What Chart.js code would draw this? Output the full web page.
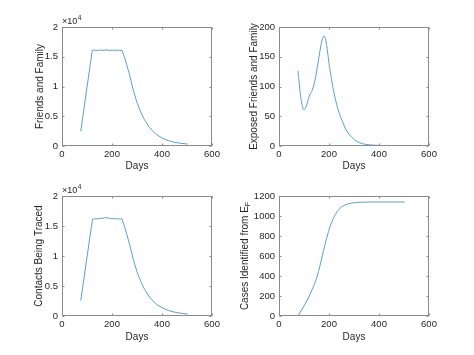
<!DOCTYPE html>
<html>
<head>
<meta charset="utf-8">
<script src="https://cdn.jsdelivr.net/npm/chart.js@4/dist/chart.umd.min.js"></script>
<style>
  html, body { margin: 0; padding: 0; background: #ffffff; }
  #wrap { position: relative; width: 474px; height: 355px; background: #ffffff; overflow: hidden; }
  .cv { position: absolute; }
</style>
</head>
<body>
<div id="wrap">
  <canvas id="c1" class="cv" style="left:0px;top:0px;width:237px;height:177px"></canvas>
  <canvas id="c2" class="cv" style="left:237px;top:0px;width:237px;height:177px"></canvas>
  <canvas id="c3" class="cv" style="left:0px;top:177px;width:237px;height:178px"></canvas>
  <canvas id="c4" class="cv" style="left:237px;top:177px;width:237px;height:178px"></canvas>
</div>
<script>
// ---------------- DATA ----------------
const xTicks = [0, 200, 400, 600];

// Friends and Family (top-left)
const ffDays   = [75, 121, 130, 140, 150, 160, 170, 180, 190, 200, 210, 220, 230, 240, 250, 260, 270, 285, 300, 315, 330, 350, 375, 400, 425, 450, 475, 503];
const ffValues = [2470, 16080, 16100, 16050, 16120, 16080, 16100, 16150, 16050, 16100, 16080, 16120, 16060, 16050, 14900, 13500, 12000, 9400, 7300, 5700, 4400, 3100, 2000, 1350, 900, 620, 450, 330];
const ffTicks  = [0, 5000, 10000, 15000, 20000];

// Exposed Friends and Family (top-right)
const efDays   = [76, 86, 96, 100, 106, 113, 118, 123, 133, 147, 160, 168, 173, 180, 187, 193, 200, 210, 220, 240, 255, 267, 280, 293, 310, 333, 360, 400, 450, 503];
const efValues = [126, 85, 63, 61, 64, 72, 80, 86, 94, 117, 150, 170, 180, 185, 178, 162, 139, 112, 89, 56, 40, 28, 20, 14, 8, 4, 2, 1, 0.3, 0.1];
const efTicks  = [0, 50, 100, 150, 200];

// Contacts Being Traced (bottom-left)
const ctDays   = [75, 122, 130, 140, 150, 160, 170, 180, 190, 200, 210, 220, 230, 240, 250, 260, 270, 285, 300, 315, 330, 350, 375, 400, 425, 450, 475, 503];
const ctValues = [2560, 16150, 16200, 16180, 16250, 16300, 16350, 16400, 16250, 16200, 16230, 16180, 16200, 16150, 14950, 13500, 12000, 9450, 7350, 5750, 4450, 3150, 2050, 1380, 920, 640, 460, 330];
const ctTicks  = [0, 5000, 10000, 15000, 20000];

// Cases Identified from E_F (bottom-right)
const ciDays   = [76, 85, 100, 115, 133, 153, 163, 173, 183, 193, 203, 213, 225, 240, 260, 280, 300, 333, 400, 503];
const ciValues = [0, 40, 100, 170, 267, 400, 495, 600, 705, 800, 885, 950, 1015, 1067, 1105, 1123, 1132, 1138, 1140, 1140];
const ciTicks  = [0, 200, 400, 600, 800, 1000, 1200];

// ---------------- STYLE ----------------
const FONT = "'Liberation Sans', Arial, Helvetica, sans-serif";
const TXT = '#262626';
const LINE = '#5aa0ca';
const TICK_SIZE = 9.5;
const TITLE_SIZE = 10;

const boxPlugin = {
  id: 'mbox',
  afterDraw(chart, args, opts) {
    const {ctx, chartArea: a, scales: {x, y}} = chart;
    ctx.save();
    ctx.strokeStyle = '#8a8a8a';
    ctx.lineWidth = 1;
    const L = Math.round(a.left) + 0.5, R = Math.round(a.right) - 0.5;
    const T = Math.round(a.top) + 0.5, B = Math.round(a.bottom) - 0.5;
    ctx.strokeRect(L, T, R - L, B - T);
    const tl = 2;
    ctx.beginPath();
    x.ticks.forEach(t => {
      const px = Math.round(x.getPixelForValue(t.value)) + 0.5;
      ctx.moveTo(px, B); ctx.lineTo(px, B - tl);
      ctx.moveTo(px, T); ctx.lineTo(px, T + tl);
    });
    y.ticks.forEach(t => {
      const py = Math.round(y.getPixelForValue(t.value)) + 0.5;
      ctx.moveTo(L, py); ctx.lineTo(L + tl, py);
      ctx.moveTo(R, py); ctx.lineTo(R - tl, py);
    });
    ctx.stroke();
    ctx.fillStyle = TXT;
    if (opts.exponent) {
      ctx.font = '9px ' + FONT;
      ctx.textBaseline = 'middle';
      ctx.textAlign = 'left';
      const s = '\u00d710';
      ctx.fillText(s, a.left, a.top - 5);
      const w = ctx.measureText(s).width;
      ctx.font = '6.5px ' + FONT;
      ctx.fillText('4', a.left + w + 0.5, a.top - 8.5);
    }
    if (opts.ytitle) {
      ctx.save();
      const cx = opts.ytitleX;
      const cy = (a.top + a.bottom) / 2;
      ctx.translate(cx, cy);
      ctx.rotate(-Math.PI / 2);
      ctx.font = TITLE_SIZE + 'px ' + FONT;
      const main = opts.ytitle;
      const wm = ctx.measureText(main).width;
      ctx.font = '7px ' + FONT;
      const ws = ctx.measureText(opts.ysub).width;
      const total = wm + ws;
      ctx.textBaseline = 'middle';
      ctx.textAlign = 'left';
      ctx.font = TITLE_SIZE + 'px ' + FONT;
      ctx.fillText(main, -total / 2, 0);
      ctx.font = '7px ' + FONT;
      ctx.fillText(opts.ysub, -total / 2 + wm, 3);
      ctx.restore();
    }
    ctx.restore();
  }
};

function makeChart(id, days, values, yTicks, cfg) {
  const pts = days.map((d, i) => ({x: d, y: values[i]}));
  return new Chart(document.getElementById(id), {
    type: 'line',
    data: {
      datasets: [{
        data: pts,
        borderColor: LINE,
        borderWidth: 1,
        pointRadius: 0,
        fill: false,
        tension: cfg.smooth ? 0.4 : 0,
        cubicInterpolationMode: cfg.smooth ? 'monotone' : 'default'
      }]
    },
    options: {
      responsive: false,
      maintainAspectRatio: false,
      animation: false,
      events: [],
      layout: { autoPadding: false, padding: { left: 0, top: cfg.padTop, right: cfg.padRight, bottom: cfg.padBottom } },
      plugins: {
        legend: { display: false },
        tooltip: { enabled: false },
        mbox: { exponent: !!cfg.exponent, ytitle: cfg.customTitle || null, ysub: cfg.customSub || '', ytitleX: cfg.customTitleX || 0 }
      },
      scales: {
        x: {
          type: 'linear',
          min: 0, max: 600,
          afterBuildTicks: s => { s.ticks = xTicks.map(v => ({value: v})); },
          afterFit: s => { s.height = 31; },
          grid: { display: false, drawTicks: false },
          border: { display: false },
          ticks: { color: TXT, font: { family: FONT, size: TICK_SIZE }, padding: 3, maxRotation: 0, autoSkip: false },
          title: { display: true, text: 'Days', color: TXT, font: { family: FONT, size: TITLE_SIZE }, padding: { top: 0, bottom: cfg.xTitlePad } }
        },
        y: {
          type: 'linear',
          min: yTicks[0], max: yTicks[yTicks.length - 1],
          afterBuildTicks: s => { s.ticks = yTicks.map(v => ({value: v})); },
          afterFit: s => { s.width = cfg.yWidth; },
          grid: { display: false, drawTicks: false },
          border: { display: false },
          ticks: {
            color: TXT, font: { family: FONT, size: TICK_SIZE }, padding: 4, autoSkip: false,
            callback: v => cfg.scale ? String(v / cfg.scale) : String(v)
          },
          title: {
            display: !cfg.customTitle,
            text: cfg.yTitle || '',
            color: TXT, font: { family: FONT, size: TITLE_SIZE },
            padding: { top: cfg.yTitlePad, bottom: 0 }
          }
        }
      }
    },
    plugins: [boxPlugin]
  });
}

function setSize(id, w, h) {
  const c = document.getElementById(id);
  c.width = w; c.height = h;
}
setSize('c1', 237, 177); setSize('c2', 237, 177); setSize('c3', 237, 178); setSize('c4', 237, 178);

makeChart('c1', ffDays, ffValues, ffTicks, {
  padTop: 27, padRight: 25, padBottom: 0, yWidth: 62, yTitle: 'Friends and Family', yTitlePad: 34,
  xTitlePad: 5, scale: 10000, exponent: true
});
makeChart('c2', efDays, efValues, efTicks, {
  padTop: 27, padRight: 45, padBottom: 0, yWidth: 42, yTitle: 'Exposed Friends and Family', yTitlePad: 11,
  xTitlePad: 5, smooth: true
});
makeChart('c3', ctDays, ctValues, ctTicks, {
  padTop: 19, padRight: 25, padBottom: 8, yWidth: 62, yTitle: 'Contacts Being Traced', yTitlePad: 33,
  xTitlePad: 4, scale: 10000, exponent: true
});
makeChart('c4', ciDays, ciValues, ciTicks, {
  padTop: 19, padRight: 45, padBottom: 8, yWidth: 42, xTitlePad: 4, smooth: true,
  customTitle: 'Cases Identified from E', customSub: 'F', customTitleX: 8
});
</script>
</body>
</html>
